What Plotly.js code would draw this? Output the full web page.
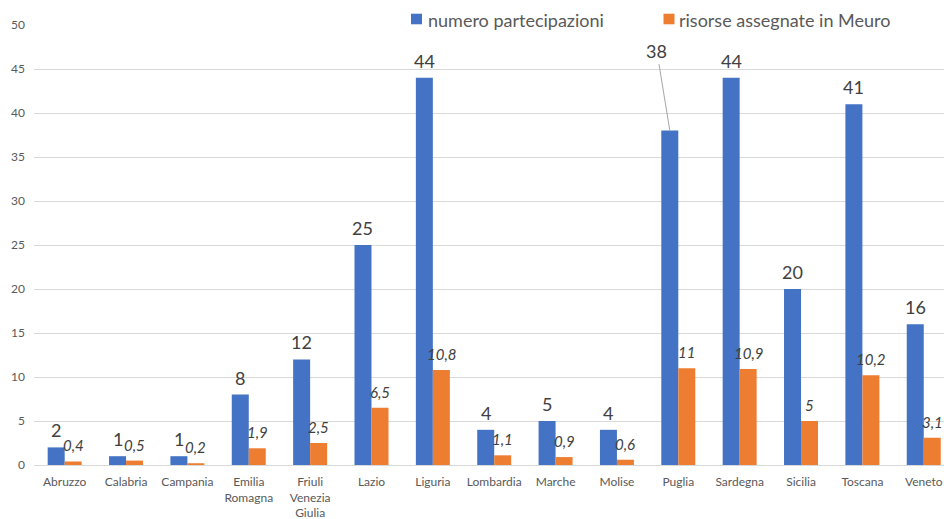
<!DOCTYPE html>
<html><head><meta charset="utf-8">
<script src="https://cdn.plot.ly/plotly-3.0.1.min.js"></script>
<style>html,body{margin:0;padding:0;overflow:hidden;background:#fff}</style>
</head><body>
<div id="chart" style="width:944px;height:519px"></div>
<script>
const categories = ["Abruzzo","Calabria","Campania","Emilia<br>Romagna","Friuli<br>Venezia<br>Giulia","Lazio","Liguria","Lombardia","Marche","Molise","Puglia","Sardegna","Sicilia","Toscana","Veneto"];
const partecipazioni = [2,1,1,8,12,25,44,4,5,4,38,44,20,41,16];
const risorse = [0.4,0.5,0.2,1.9,2.5,6.5,10.8,1.1,0.9,0.6,11,10.9,5,10.2,3.1];
const seriesNames = ["numero partecipazioni","risorse assegnate in Meuro"];
const seriesColors = ['#4472C4','#ED7D31'];
const yTicks = [0,5,10,15,20,25,30,35,40,45,50];
const calloutIndex = 10; // Puglia label drawn with leader line

const fmt = v => String(v).replace('.', ',');
const FONT = 'Lato, "Open Sans", sans-serif';

// geometry (pixels)
const W = 944, H = 519, ML = 34, MR = 0, MT = 25, MB = 54;
const xRange = [-0.5, 14.33];
const bargap = 0.446;
const plotW = W - ML - MR, plotH = H - MT - MB;
const catPx = plotW / (xRange[1] - xRange[0]);
const barPx = catPx * (1 - bargap) / 2;
const px2paperX = p => (p - ML) / plotW;
const px2paperY = p => (H - MB - p) / plotH;

const data = [
  {type:'bar', name:seriesNames[0], x:categories, y:partecipazioni,
   marker:{color:seriesColors[0]}, hoverinfo:'none'},
  {type:'bar', name:seriesNames[1], x:categories, y:risorse,
   marker:{color:seriesColors[1]}, hoverinfo:'none'}
];

const annotations = [];
partecipazioni.forEach((v, i) => {
  if (i === calloutIndex) {
    annotations.push({x:categories[i], y:v, xref:'x', yref:'y', xshift:-barPx/2,
      text:fmt(v), showarrow:true, arrowhead:0, arrowwidth:1, arrowcolor:'#a6a6a6',
      ax:-13, ay:-80, standoff:0, startstandoff:1,
      font:{size:18, color:'#404040', family:FONT}});
  } else {
    annotations.push({x:categories[i], y:v, xref:'x', yref:'y', xshift:-barPx/2, yshift:4,
      yanchor:'bottom', xanchor:'center', showarrow:false, text:fmt(v),
      font:{size:18, color:'#404040', family:FONT}});
  }
});
risorse.forEach((v, i) => {
  annotations.push({x:categories[i], y:v, xref:'x', yref:'y', xshift:barPx/2, yshift:5,
    yanchor:'bottom', xanchor:'center', showarrow:false, text:fmt(v),
    font:{size:15, color:'#404040', family:FONT, style:'italic'}});
});

// custom legend
const legendItems = [
  {sq:416.5, tx:425.5},
  {sq:669, tx:677}
];
const shapes = [];
legendItems.forEach((it, k) => {
  shapes.push({type:'rect', xref:'paper', yref:'paper', xsizemode:'pixel', ysizemode:'pixel',
    xanchor:px2paperX(it.sq), yanchor:px2paperY(19), x0:-5.5, x1:5.5, y0:-5.3, y1:5.3,
    fillcolor:seriesColors[k], line:{width:0}});
  annotations.push({xref:'paper', yref:'paper', x:px2paperX(it.tx), y:px2paperY(19.5),
    xanchor:'left', yanchor:'middle', showarrow:false, text:seriesNames[k],
    font:{size:18, color:'#595959', family:FONT}});
});

const layout = {
  width:W, height:H,
  margin:{l:ML, r:MR, t:MT, b:MB},
  paper_bgcolor:'#fff', plot_bgcolor:'#fff',
  font:{family:FONT, color:'#595959'},
  barmode:'group', bargap:bargap, bargroupgap:0,
  showlegend:false,
  xaxis:{type:'category', range:xRange, showgrid:false, zeroline:false, showline:false,
         ticks:'', ticklabelstandoff:8, tickfont:{size:12, color:'#595959', family:FONT}, automargin:false, fixedrange:true},
  yaxis:{range:[0,50], tickvals:yTicks, showgrid:true, gridcolor:'#d9d9d9', gridwidth:1,
         zeroline:true, zerolinecolor:'#d9d9d9', zerolinewidth:1, showline:false, ticks:'',
         ticklabelstandoff:8, tickfont:{size:12, color:'#595959', family:FONT}, automargin:false, fixedrange:true},
  annotations:annotations,
  shapes:shapes
};

Plotly.newPlot('chart', data, layout, {displayModeBar:false, staticPlot:true});
</script>
</body></html>
